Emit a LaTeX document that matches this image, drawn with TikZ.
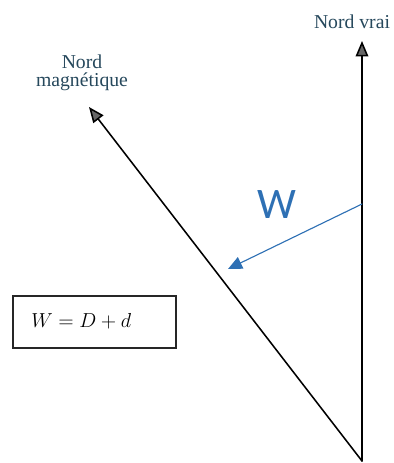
\documentclass[tikz,border=0pt]{standalone}
\usepackage{fontspec}
\setmainfont{Liberation Serif}
\newfontfamily\calibri{Carlito}
\usepackage{tikz}
\usetikzlibrary{arrows.meta}
\usepackage{xcolor}
\definecolor{labelcol}{RGB}{38,72,92}
\definecolor{wblue}{RGB}{46,112,180}

\begin{document}
\begin{tikzpicture}[x=0.025cm,y=-0.025cm,line cap=round,
  northarrow/.style={-{Triangle[length=11pt,width=9pt,fill=black!60]},black,line width=1.1pt},
  lbl/.style={text=labelcol,font=\fontsize{14}{13}\selectfont,align=center,inner sep=0pt}]
\useasboundingbox (0,0) rectangle (394,463);
% directions
\coordinate (O) at (362,461);
\coordinate (TN) at (362,41);
\coordinate (MN) at (89,107);
\draw[northarrow] (O) -- (TN);
\draw[northarrow] (O) -- (MN);
\node[lbl] (tnlabel) at (352,22) {Nord vrai};
\node[lbl] (mnlabel) at (82,73) {Nord\\magnétique};
% angle W
\coordinate (Wstart) at (362,204);
\coordinate (Wend) at (228,269);
\draw[wblue,line width=0.8pt,-{Triangle[length=10pt,width=9pt]}] (Wstart) -- (Wend);
\node[text=wblue,font=\calibri\fontsize{31}{34}\selectfont,inner sep=0pt] (Wlabel) at (277,205) {W};
% formule
\draw[black!85,line width=0.8pt] (13,296) rectangle (176,348);
\node[anchor=west,font=\fontsize{14}{16}\selectfont,inner sep=0pt] (formula) at (31,321) {$W = D + d$};
\end{tikzpicture}
\end{document}
